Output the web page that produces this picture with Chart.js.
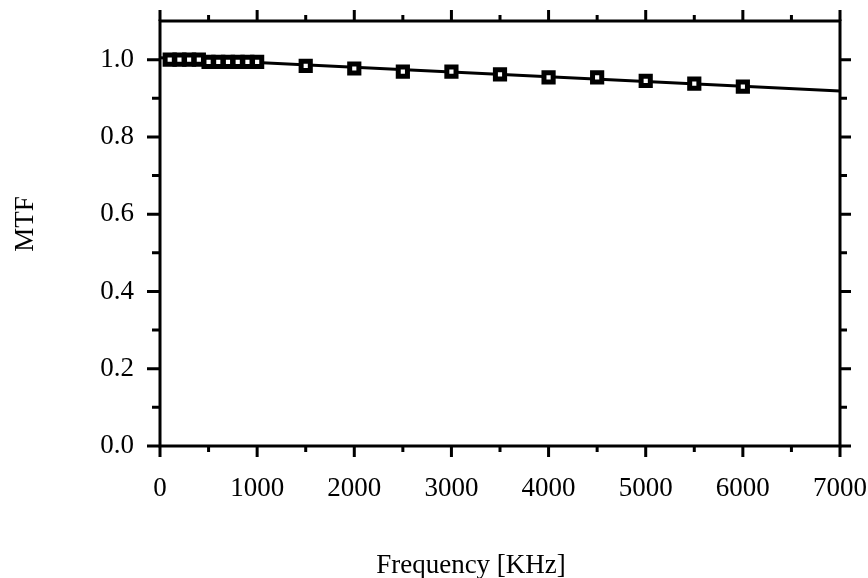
<!DOCTYPE html>
<html>
<head>
<meta charset="utf-8">
<script src="https://cdn.jsdelivr.net/npm/chart.js@4.4.1/dist/chart.umd.min.js"></script>
<style>
    html, body { margin: 0; padding: 0; background: #fff; }
    #wrap { width: 868px; height: 578px; }
</style>
</head>
<body>
<div id="wrap"><canvas id="chart-mtf"></canvas></div>
<script>
// Measured MTF points (frequency in KHz)
const freqs = [100, 200, 300, 400, 500, 600, 700, 800, 900, 1000,
               1500, 2000, 2500, 3000, 3500, 4000, 4500, 5000, 5500, 6000];
const mtfValues = [1.0, 1.0, 1.0, 1.0, 0.994, 0.994, 0.994, 0.994, 0.994, 0.994,
                   0.984, 0.977, 0.969, 0.969, 0.962, 0.954, 0.954, 0.945, 0.938, 0.930];

// Fitted line end points
const fitFreqs = [0, 7000];
const fitMtf = [1.005, 0.919];

// Tick labels
const xTicks = [0, 1000, 2000, 3000, 4000, 5000, 6000, 7000];
const yTicks = [0, 0.2, 0.4, 0.6, 0.8, 1.0];

const FONT = '"Liberation Serif", "Times New Roman", serif';

// Frame, tick marks and axis titles
const framePlugin = {
    id: 'frame',
    afterDraw(chart) {
        const { ctx, chartArea: a, scales: { x, y } } = chart;
        ctx.save();
        ctx.strokeStyle = '#000';
        ctx.lineWidth = 3;
        ctx.strokeRect(a.left, a.top, a.right - a.left, a.bottom - a.top);

        ctx.beginPath();
        // x ticks (major + minor halfway)
        xTicks.forEach((v, i) => {
            const px = x.getPixelForValue(v);
            ctx.moveTo(px, a.bottom); ctx.lineTo(px, a.bottom + 11);
            ctx.moveTo(px, a.top); ctx.lineTo(px, a.top - 11);
            if (i < xTicks.length - 1) {
                const pm = x.getPixelForValue((v + xTicks[i + 1]) / 2);
                ctx.moveTo(pm, a.bottom); ctx.lineTo(pm, a.bottom + 6);
                ctx.moveTo(pm, a.top); ctx.lineTo(pm, a.top - 6);
            }
        });
        // y ticks
        const yAll = yTicks.concat([1.2]);
        yTicks.forEach((v, i) => {
            const py = y.getPixelForValue(v);
            ctx.moveTo(a.left, py); ctx.lineTo(a.left - 13, py);
            ctx.moveTo(a.right, py); ctx.lineTo(a.right + 11, py);
            const mid = (v + yAll[i + 1]) / 2;
            if (mid < y.max) {
                const pm = y.getPixelForValue(mid);
                ctx.moveTo(a.left, pm); ctx.lineTo(a.left - 8, pm);
                ctx.moveTo(a.right, pm); ctx.lineTo(a.right + 7, pm);
            }
        });
        ctx.stroke();

        // axis titles
        ctx.fillStyle = '#000';
        ctx.font = '27px ' + FONT;
        ctx.textAlign = 'center';
        ctx.textBaseline = 'alphabetic';
        ctx.fillText('Frequency [KHz]', 471, 573);
        ctx.translate(33, 224);
        ctx.rotate(-Math.PI / 2);
        ctx.fillText('MTF', 0, 0);
        ctx.restore();
    }
};

const ctx = document.getElementById('chart-mtf');

new Chart(ctx, {
    type: 'line',
    data: {
        datasets: [
            {
                label: 'measured',
                data: freqs.map((f, i) => ({ x: f, y: mtfValues[i] })),
                showLine: false,
                pointStyle: 'rect',
                pointRadius: 6.5,
                pointBorderWidth: 5,
                pointBackgroundColor: '#fff',
                pointBorderColor: '#000'
            },
            {
                label: 'fit',
                data: fitFreqs.map((f, i) => ({ x: f, y: fitMtf[i] })),
                borderColor: '#000',
                borderWidth: 3,
                pointRadius: 0,
                tension: 0
            }
        ]
    },
    options: {
        responsive: true,
        maintainAspectRatio: false,
        animation: false,
        layout: { padding: { top: 21, right: 28, left: 0, bottom: 0 } },
        plugins: {
            legend: { display: false },
            tooltip: { enabled: false }
        },
        scales: {
            x: {
                type: 'linear',
                min: 0,
                max: 7000,
                afterBuildTicks: s => { s.ticks = xTicks.map(v => ({ value: v })); },
                afterFit: s => { s.height = 132; s.paddingLeft = 0; s.paddingRight = 0; },
                grid: { display: false },
                border: { display: false },
                ticks: {
                    color: '#000',
                    padding: 19,
                    maxRotation: 0,
                    font: { family: FONT, size: 27 },
                    callback: v => String(v)
                }
            },
            y: {
                type: 'linear',
                min: 0,
                max: 1.1,
                afterBuildTicks: s => { s.ticks = yTicks.map(v => ({ value: v })); },
                afterFit: s => { s.width = 160; s.paddingTop = 0; s.paddingBottom = 0; },
                grid: { display: false },
                border: { display: false },
                ticks: {
                    color: '#000',
                    padding: 18,
                    font: { family: FONT, size: 27 },
                    callback: v => Number(v).toFixed(1)
                }
            }
        }
    },
    plugins: [framePlugin]
});
</script>
</body>
</html>
